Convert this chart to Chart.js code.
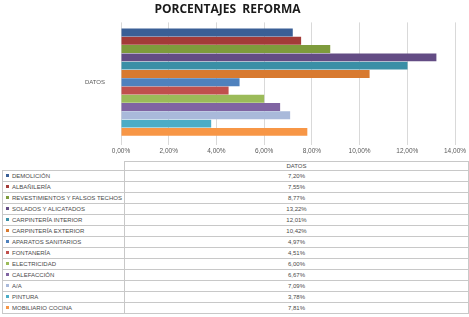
<!DOCTYPE html>
<html>
<head>
<meta charset="utf-8">
<script src="https://cdn.jsdelivr.net/npm/chart.js@4/dist/chart.umd.min.js"></script>
<style>
  body { margin:0; background:#fff; width:469px; height:317px; overflow:hidden; position:relative; }
  #wrap { position:absolute; left:0; top:0; width:469px; height:158px; }
  #datos { position:absolute; left:2px; top:161px; border-collapse:collapse; font-family:"Liberation Sans", Arial, sans-serif; font-size:6px; color:#4a4a4a; }
  #datos td { border:1px solid #c8c8c8; height:10px; padding:0; line-height:10px; }
  #datos tr.head td { height:8px; line-height:8px; }
  #datos td.name { width:118px; padding-left:3px; white-space:nowrap; }
  #datos td.val { width:344px; text-align:center; }
  #datos td.blank { border:none; }
  .key { display:inline-block; width:3px; height:3px; margin-right:3px; vertical-align:middle; position:relative; top:-1px; }
</style>
</head>
<body>
<div id="wrap"><canvas id="chart"></canvas></div>
<table id="datos"><tbody></tbody></table>
<script>
const categories = ['DATOS'];
const partidas = ['DEMOLICIÓN','ALBAÑILERÍA','REVESTIMIENTOS Y FALSOS TECHOS','SOLADOS Y ALICATADOS',
  'CARPINTERÍA INTERIOR','CARPINTERÍA EXTERIOR','APARATOS SANITARIOS','FONTANERÍA','ELECTRICIDAD',
  'CALEFACCIÓN','A/A','PINTURA','MOBILIARIO COCINA'];
const porcentajes = [7.20, 7.55, 8.77, 13.22, 12.01, 10.42, 4.97, 4.51, 6.00, 6.67, 7.09, 3.78, 7.81];
const colores = ['#3a5f96','#a33b38','#7e9b3c','#634c84','#3a8fa6','#d87a30',
  '#4f81bd','#c0504d','#9bbb59','#8064a2','#a9b9da','#4bacc6','#f79646'];
const xTicks = [0, 2, 4, 6, 8, 10, 12, 14];

const pct = v => v.toFixed(2).replace('.', ',') + '%';

// data table under the chart
const body = document.querySelector('#datos tbody');
let html = '<tr class="head"><td class="blank"></td><td class="val">' + categories[0] + '</td></tr>';
partidas.forEach((p, i) => {
  html += `<tr><td class="name"><span class="key" style="background:${colores[i]}"></span>${p}</td>` +
          `<td class="val">${pct(porcentajes[i])}</td></tr>`;
});
body.innerHTML = html;

new Chart(document.getElementById('chart').getContext('2d'), {
  type: 'bar',
  data: {
    labels: categories,
    datasets: partidas.map((p, i) => ({
      label: p,
      data: [porcentajes[i]],
      backgroundColor: colores[i],
      borderWidth: 0,
      categoryPercentage: 0.9,
      barPercentage: 0.96
    }))
  },
  options: {
    indexAxis: 'y',
    responsive: true,
    maintainAspectRatio: false,
    animation: false,
    layout: { padding: { left: 0, right: 14, top: 0, bottom: 0 } },
    plugins: {
      legend: { display: false },
      tooltip: { enabled: false },
      title: {
        display: true,
        text: 'PORCENTAJES  REFORMA',
        color: '#1a1a1a',
        font: { family: '"Open Sans", "Liberation Sans", sans-serif', size: 12, weight: 'bold' },
        padding: { top: 2, bottom: 6 }
      }
    },
    scales: {
      x: {
        min: 0, max: 14,
        afterBuildTicks: s => { s.ticks = xTicks.map(v => ({ value: v })); },
        afterFit: s => { s.height = 16; },
        grid: { color: '#d9d9d9', tickLength: 3 },
        border: { display: false },
        ticks: {
          padding: 2,
          color: '#595959',
          font: { family: '"Liberation Sans", Arial, sans-serif', size: 6.5 },
          callback: v => pct(v)
        }
      },
      y: {
        afterFit: s => { s.width = 121; },
        grid: { display: false },
        border: { display: false },
        ticks: {
          padding: 8,
          color: '#595959',
          font: { family: '"Liberation Sans", Arial, sans-serif', size: 6 }
        }
      }
    }
  }
});
</script>
</body>
</html>
